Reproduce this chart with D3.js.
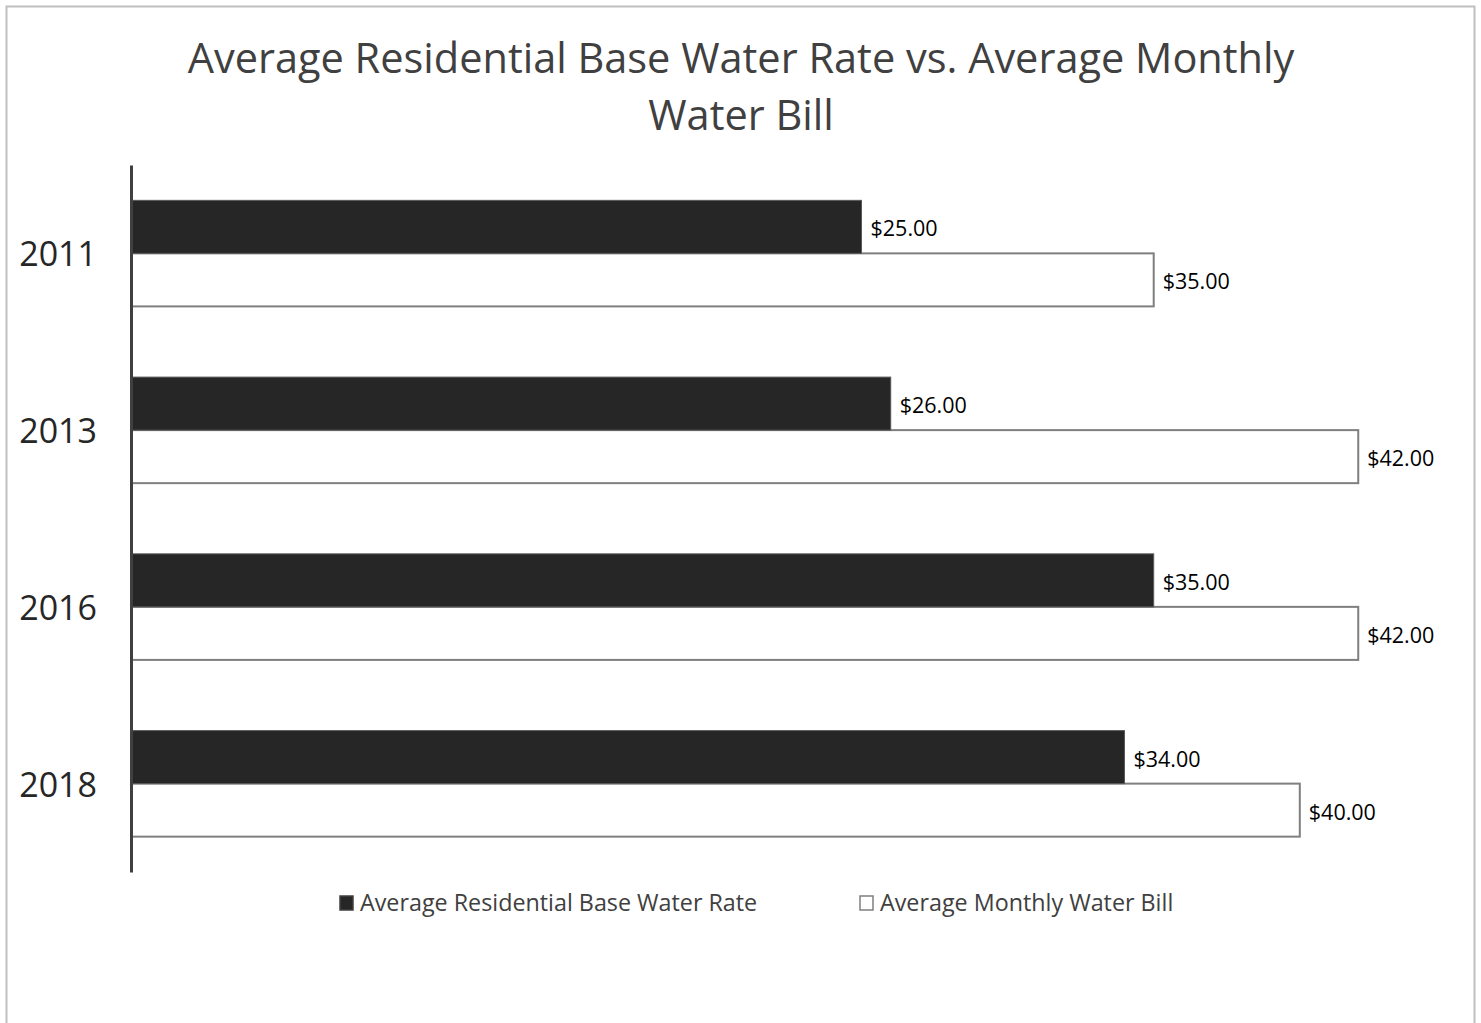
<!DOCTYPE html>
<html>
<head>
<meta charset="utf-8">
<script src="https://cdn.jsdelivr.net/npm/d3@7"></script>
<style>
  body { margin: 0; background: #fff; }
  text { font-family: "Open Sans", "Noto Sans", sans-serif; }
</style>
</head>
<body>
<div id="chart"></div>
<script>
// Chart data
const years = ["2011", "2013", "2016", "2018"];
const baseRate = [25, 26, 35, 34];
const monthlyBill = [35, 42, 42, 40];
const seriesNames = ["Average Residential Base Water Rate", "Average Monthly Water Bill"];
const titleLines = ["Average Residential Base Water Rate vs. Average Monthly", "Water Bill"];

let width = 1481,
    height = 1023;

let margin = {top: 165, bottom: 151, left: 131, right: 30};

let svg = d3.select('#chart')
    .append('svg')
    .attr('width', width)
    .attr('height', height);

// Chart border
svg.append('rect')
    .attr('x', 6.5)
    .attr('y', 6.5)
    .attr('width', 1468)
    .attr('height', 1030)
    .attr('fill', 'white')
    .attr('stroke', '#bfbfbf')
    .attr('stroke-width', 2);

// Title
svg.append('text')
    .attr('x', 741)
    .attr('y', 73)
    .attr('text-anchor', 'middle')
    .style('font-size', '41.5px')
    .style('fill', '#404040')
    .selectAll('tspan')
    .data(titleLines)
    .enter().append('tspan')
    .attr('x', 741)
    .attr('dy', (d, i) => i === 0 ? 0 : 57)
    .text(d => d);

// Scales
let xScale = d3.scaleLinear()
    .domain([0, 10])
    .range([margin.left, margin.left + 292.2]);

let yScale = d3.scaleBand()
    .domain(years)
    .range([margin.top, height - margin.bottom])
    .paddingInner(0.4)
    .paddingOuter(0.2);

let sub = d3.scaleBand()
    .domain([0, 1])
    .range([0, yScale.bandwidth()]);

const rows = years.map((y, i) => ({year: y, vals: [baseRate[i], monthlyBill[i]]}));

const groups = svg.selectAll('.grp')
    .data(rows)
    .enter().append('g')
    .attr('class', 'grp')
    .attr('transform', d => `translate(0, ${yScale(d.year)})`);

// White bars first, then dark so their shared edge looks right
groups.append('rect')
    .attr('x', xScale(0))
    .attr('y', sub(1))
    .attr('width', d => xScale(d.vals[1]) - xScale(0))
    .attr('height', sub.bandwidth())
    .attr('fill', 'white')
    .attr('stroke', '#7f7f7f')
    .attr('stroke-width', 2);

groups.append('rect')
    .attr('x', xScale(0))
    .attr('y', sub(0))
    .attr('width', d => xScale(d.vals[0]) - xScale(0))
    .attr('height', sub.bandwidth())
    .attr('fill', '#262626')
    .attr('stroke', '#595959')
    .attr('stroke-width', 1);

// Value labels
[0, 1].forEach(k => {
    groups.append('text')
        .attr('x', d => xScale(d.vals[k]) + 9)
        .attr('y', sub(k) + sub.bandwidth() / 2 + 2)
        .attr('dy', '0.35em')
        .style('font-size', '21.5px')
        .style('fill', '#000')
        .text(d => '$' + d.vals[k].toFixed(2));
});

// Category axis
let yAxis = svg.append('g')
    .attr('transform', `translate(${margin.left}, 0)`)
    .call(d3.axisLeft(yScale).tickSize(0).tickPadding(34));

yAxis.select('.domain')
    .attr('stroke', '#404040')
    .attr('stroke-width', 3);

yAxis.selectAll('text')
    .attr('y', 2)
    .style('font-family', '"Open Sans", "Noto Sans", sans-serif')
    .style('font-size', '34px')
    .style('fill', '#262626');

// Legend
const legendX = [339, 859];
const legend = svg.selectAll('.legend')
    .data(seriesNames)
    .enter().append('g')
    .attr('class', 'legend')
    .attr('transform', (d, i) => `translate(${legendX[i]}, 903)`);

legend.append('rect')
    .attr('x', 1)
    .attr('y', -7)
    .attr('width', 13)
    .attr('height', 14)
    .attr('fill', (d, i) => i === 0 ? '#262626' : 'white')
    .attr('stroke', (d, i) => i === 0 ? '#404040' : '#7f7f7f')
    .attr('stroke-width', 1.5);

legend.append('text')
    .attr('x', 21)
    .attr('y', 0)
    .attr('dy', '0.35em')
    .style('font-size', '23.3px')
    .style('fill', '#404040')
    .text(d => d);
</script>
</body>
</html>
